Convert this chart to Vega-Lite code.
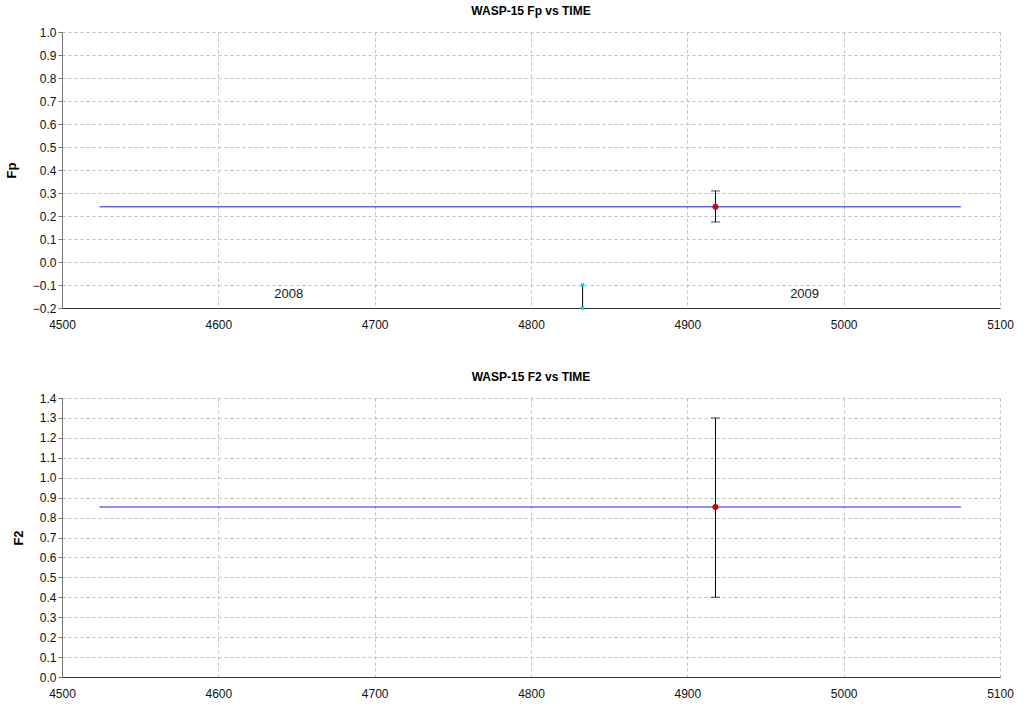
{
  "$schema": "https://vega.github.io/schema/vega-lite/v6.json",
  "padding": {"left": 5, "top": 5, "right": 5, "bottom": 5},
  "spacing": 41,
  "config": {
    "font": "Liberation Sans",
    "view": {"stroke": null},
    "axis": {
      "labelFont": "Liberation Sans", "labelFontSize": 12, "labelColor": "#111",
      "titleFont": "Liberation Sans", "titleFontSize": 13, "titleFontWeight": "bold", "titleColor": "#000",
      "gridColor": "#c0c0c0", "gridDash": [3, 3], "gridWidth": 1,
      "domainColor": "#777", "tickColor": "#777", "tickSize": 4
    },
    "axisX": {"labelFlush": false, "ticks": false, "labelPadding": 11, "domainColor": "#333"},
    "axisY": {"titlePadding": 14},
    "title": {"font": "Liberation Sans", "fontSize": 12, "fontWeight": "bold", "color": "#000", "offset": 8}
  },
  "datasets": {
    "fp_line": [{"x1": 4524, "x2": 5075, "y": 0.24}],
    "fp_pt": [{"t": 4918, "v": 0.24, "lo": 0.174, "hi": 0.309}],
    "mark": [{"t": 4833, "lo": -0.2, "hi": -0.1}],
    "mark_end": [{"t": 4833, "y": -0.2}, {"t": 4833, "y": -0.1}],
    "years": [{"t": 4645, "y": -0.14, "label": "2008"}, {"t": 4975, "y": -0.14, "label": "2009"}],
    "f2_line": [{"x1": 4524, "x2": 5075, "y": 0.853}],
    "f2_pt": [{"t": 4918, "v": 0.853, "lo": 0.40, "hi": 1.30}]
  },
  "vconcat": [
    {
      "title": "WASP-15 Fp vs TIME",
      "width": 938,
      "height": 276,
      "layer": [
        {
          "data": {"name": "fp_line"},
          "mark": {"type": "rule", "color": "#1a1aff", "strokeWidth": 1},
          "encoding": {
            "x": {"field": "x1", "type": "quantitative", "scale": {"domain": [4500, 5100], "nice": false, "zero": false},
              "axis": {"title": null, "values": [4500, 4600, 4700, 4800, 4900, 5000, 5100], "format": "d"}},
            "x2": {"field": "x2"},
            "y": {"field": "y", "type": "quantitative", "scale": {"domain": [-0.2, 1.0], "nice": false, "zero": false},
              "axis": {"title": "Fp", "values": [-0.2, -0.1, 0, 0.1, 0.2, 0.3, 0.4, 0.5, 0.6, 0.7, 0.8, 0.9, 1.0], "format": ".1f"}}
          }
        },
        {
          "data": {"name": "fp_pt"},
          "mark": {"type": "errorbar", "ticks": {"size": 9, "color": "#000", "strokeWidth": 1.5}, "rule": {"color": "#000", "strokeWidth": 1}},
          "encoding": {
            "x": {"field": "t", "type": "quantitative",
              "axis": {"title": null, "values": [4500, 4600, 4700, 4800, 4900, 5000, 5100], "format": "d"}},
            "y": {"field": "lo", "type": "quantitative",
              "axis": {"title": "Fp", "values": [-0.2, -0.1, 0, 0.1, 0.2, 0.3, 0.4, 0.5, 0.6, 0.7, 0.8, 0.9, 1.0], "format": ".1f"}},
            "y2": {"field": "hi"}
          }
        },
        {
          "data": {"name": "fp_pt"},
          "mark": {"type": "circle", "color": "#e00000", "size": 30, "opacity": 1, "stroke": "#700000", "strokeWidth": 0.5},
          "encoding": {
            "x": {"field": "t", "type": "quantitative",
              "axis": {"title": null, "values": [4500, 4600, 4700, 4800, 4900, 5000, 5100], "format": "d"}},
            "y": {"field": "v", "type": "quantitative",
              "axis": {"title": "Fp", "values": [-0.2, -0.1, 0, 0.1, 0.2, 0.3, 0.4, 0.5, 0.6, 0.7, 0.8, 0.9, 1.0], "format": ".1f"}}
          }
        },
        {
          "data": {"name": "mark"},
          "mark": {"type": "rule", "color": "#000", "strokeWidth": 1},
          "encoding": {
            "x": {"field": "t", "type": "quantitative",
              "axis": {"title": null, "values": [4500, 4600, 4700, 4800, 4900, 5000, 5100], "format": "d"}},
            "y": {"field": "lo", "type": "quantitative",
              "axis": {"title": "Fp", "values": [-0.2, -0.1, 0, 0.1, 0.2, 0.3, 0.4, 0.5, 0.6, 0.7, 0.8, 0.9, 1.0], "format": ".1f"}},
            "y2": {"field": "hi"}
          }
        },
        {
          "data": {"name": "mark_end"},
          "mark": {"type": "square", "color": "#00d8d8", "size": 12, "opacity": 1},
          "encoding": {
            "x": {"field": "t", "type": "quantitative",
              "axis": {"title": null, "values": [4500, 4600, 4700, 4800, 4900, 5000, 5100], "format": "d"}},
            "y": {"field": "y", "type": "quantitative",
              "axis": {"title": "Fp", "values": [-0.2, -0.1, 0, 0.1, 0.2, 0.3, 0.4, 0.5, 0.6, 0.7, 0.8, 0.9, 1.0], "format": ".1f"}}
          }
        },
        {
          "data": {"name": "years"},
          "mark": {"type": "text", "fontSize": 13, "color": "#222", "font": "Liberation Sans"},
          "encoding": {
            "x": {"field": "t", "type": "quantitative",
              "axis": {"title": null, "values": [4500, 4600, 4700, 4800, 4900, 5000, 5100], "format": "d"}},
            "y": {"field": "y", "type": "quantitative",
              "axis": {"title": "Fp", "values": [-0.2, -0.1, 0, 0.1, 0.2, 0.3, 0.4, 0.5, 0.6, 0.7, 0.8, 0.9, 1.0], "format": ".1f"}},
            "text": {"field": "label"}
          }
        }
      ]
    },
    {
      "title": "WASP-15 F2 vs TIME",
      "width": 938,
      "height": 279,
      "layer": [
        {
          "data": {"name": "f2_line"},
          "mark": {"type": "rule", "color": "#1a1aff", "strokeWidth": 1},
          "encoding": {
            "x": {"field": "x1", "type": "quantitative", "scale": {"domain": [4500, 5100], "nice": false, "zero": false},
              "axis": {"title": null, "values": [4500, 4600, 4700, 4800, 4900, 5000, 5100], "format": "d"}},
            "x2": {"field": "x2"},
            "y": {"field": "y", "type": "quantitative", "scale": {"domain": [0, 1.4], "nice": false},
              "axis": {"title": "F2", "values": [0, 0.1, 0.2, 0.3, 0.4, 0.5, 0.6, 0.7, 0.8, 0.9, 1.0, 1.1, 1.2, 1.3, 1.4], "format": ".1f"}}
          }
        },
        {
          "data": {"name": "f2_pt"},
          "mark": {"type": "errorbar", "ticks": {"size": 9, "color": "#000", "strokeWidth": 1.5}, "rule": {"color": "#000", "strokeWidth": 1}},
          "encoding": {
            "x": {"field": "t", "type": "quantitative",
              "axis": {"title": null, "values": [4500, 4600, 4700, 4800, 4900, 5000, 5100], "format": "d"}},
            "y": {"field": "lo", "type": "quantitative",
              "axis": {"title": "F2", "values": [0, 0.1, 0.2, 0.3, 0.4, 0.5, 0.6, 0.7, 0.8, 0.9, 1.0, 1.1, 1.2, 1.3, 1.4], "format": ".1f"}},
            "y2": {"field": "hi"}
          }
        },
        {
          "data": {"name": "f2_pt"},
          "mark": {"type": "circle", "color": "#e00000", "size": 30, "opacity": 1, "stroke": "#700000", "strokeWidth": 0.5},
          "encoding": {
            "x": {"field": "t", "type": "quantitative",
              "axis": {"title": null, "values": [4500, 4600, 4700, 4800, 4900, 5000, 5100], "format": "d"}},
            "y": {"field": "v", "type": "quantitative",
              "axis": {"title": "F2", "values": [0, 0.1, 0.2, 0.3, 0.4, 0.5, 0.6, 0.7, 0.8, 0.9, 1.0, 1.1, 1.2, 1.3, 1.4], "format": ".1f"}}
          }
        }
      ]
    }
  ]
}
